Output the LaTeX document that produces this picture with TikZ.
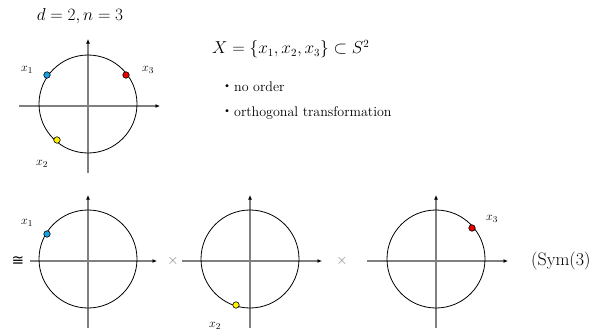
\documentclass[tikz,border=0pt]{standalone}
\usepackage{amsmath,amssymb}
\usepackage{fontspec}
\usepackage{tikz}
\usetikzlibrary{arrows.meta,positioning}
\newfontfamily\cjk{Noto Sans CJK JP}
\newfontfamily\dejavu{DejaVu Sans}
\definecolor{dotblue}{RGB}{20,160,225}
\definecolor{dotyellow}{RGB}{255,240,0}
\definecolor{dotred}{RGB}{235,0,0}

\begin{document}
\begin{tikzpicture}[
  x=1pt, y=-1pt,
  axis/.style={draw=gray, line width=1.1pt, -{Latex[length=4.5pt,width=4pt,color=black]}},
  ring/.style={draw=black, line width=0.8pt},
  pt/.style={circle, draw=black, line width=0.6pt, inner sep=0pt, minimum size=6.5pt},
  lab/.style={font=\fontsize{13}{15}\selectfont, inner sep=0pt},
  txt/.style={font=\fontsize{14}{16}\selectfont, anchor=west, inner sep=0pt}
]
\useasboundingbox (0,0) rectangle (594,332);

% top: the configuration
\node[inner sep=0pt] (title) at (80,16) {\fontsize{19}{22}\selectfont $d=2, n=3$};
\draw[axis] (19,106) -- (160,106);
\draw[axis] (88,173) -- (88,39);
\draw[ring] (88,104) circle (49pt);
\node[pt, fill=dotblue] (p1) at (47,75) {};
\node[pt, fill=dotred] (p3) at (126,75) {};
\node[pt, fill=dotyellow] (p2) at (57,140) {};
\node[lab] (l1) at (27,70) {$x_1$};
\node[lab] (l3) at (148,70) {$x_3$};
\node[lab] (l2) at (42,164) {$x_2$};

% top right: text
\node[anchor=west, inner sep=0pt] (set) at (212,49) {\fontsize{16}{19}\selectfont $X=\{x_1,x_2,x_3\}\subset S^2$};
\node[txt] (b1) at (220,87) {{\cjk ・}no order};
\node[txt] (b2) at (220,113) {{\cjk ・}orthogonal transformation};

% bottom: first factor
\node[inner sep=0pt] (iso) at (18,261) {\fontsize{15}{17}\selectfont\dejavu ≅};
\draw[axis] (30,261) -- (157,261);
\draw[axis] (88,328) -- (88,195);
\draw[ring] (88,259) circle (49pt);
\node[pt, fill=dotblue] (q1) at (47,234) {};
\node[lab] (m1) at (27,223) {$x_1$};
\node[text=gray, inner sep=0pt] (t1) at (173,261) {\fontsize{14}{16}\selectfont $\times$};

% bottom: second factor
\draw[axis] (182,261) -- (322,261);
\draw[axis] (250,328) -- (250,195);
\draw[ring] (250,259) circle (49pt);
\node[pt, fill=dotyellow] (q2) at (236,305) {};
\node[lab] (m2) at (215,326) {$x_2$};
\node[text=gray, inner sep=0pt] (t2) at (342,261) {\fontsize{14}{16}\selectfont $\times$};

% bottom: third factor
\draw[axis] (367,261) -- (508,261);
\draw[axis] (436,328) -- (436,195);
\draw[ring] (436,259) circle (49pt);
\node[pt, fill=dotred] (q3) at (472,228) {};
\node[lab] (m3) at (492,219) {$x_3$};
\node[anchor=west, inner sep=0pt] (sym) at (531,261) {\fontsize{18}{21}\selectfont (Sym(3)};
\end{tikzpicture}
\end{document}
